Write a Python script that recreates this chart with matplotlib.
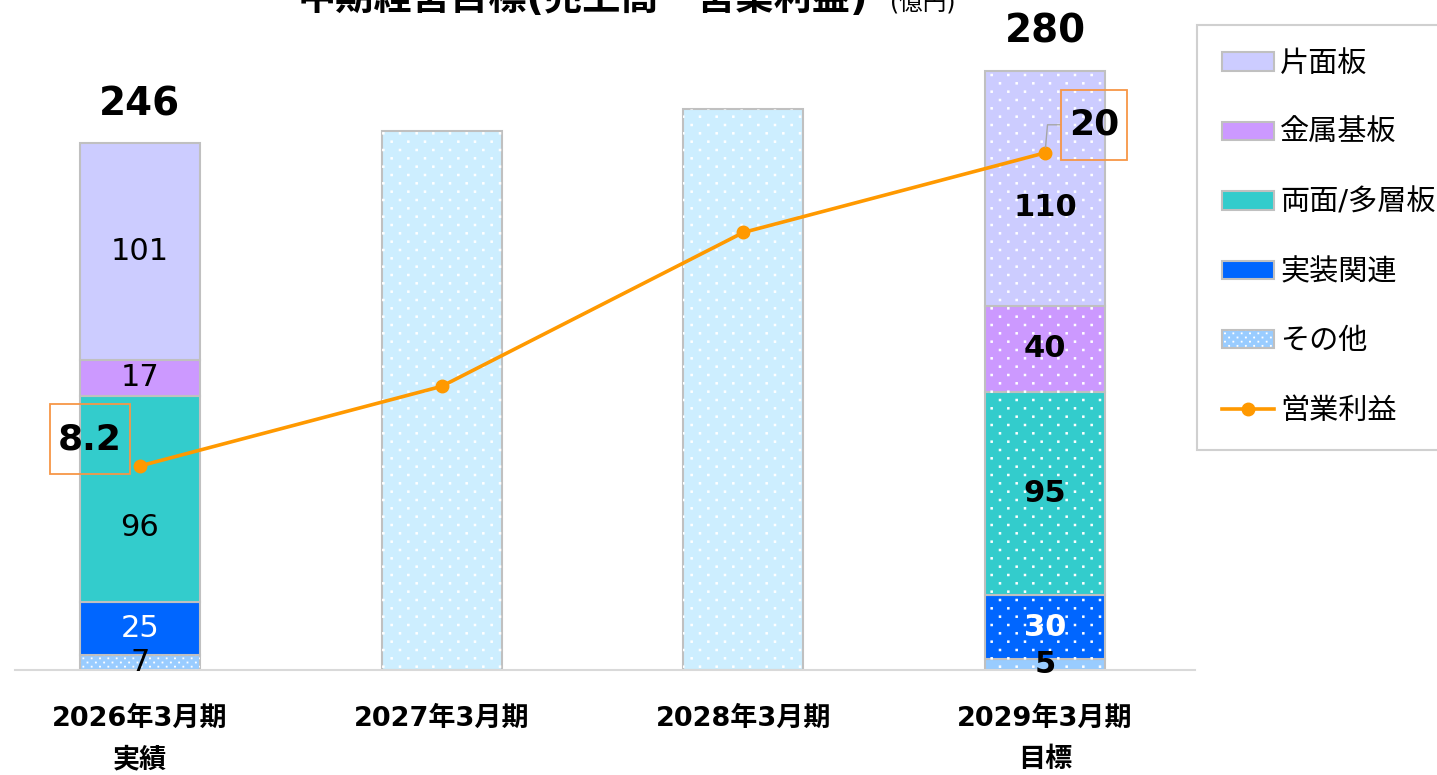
import numpy as np
import matplotlib
matplotlib.use("Agg")
import matplotlib.pyplot as plt
import matplotlib.hatch as mhatch
from matplotlib.path import Path
from matplotlib.patches import Patch
from matplotlib.lines import Line2D
from matplotlib.legend_handler import HandlerTuple

plt.rcParams['font.family'] = ['DejaVu Sans', 'Noto Sans CJK JP']
plt.rcParams['hatch.linewidth'] = 0.8


# '.' ハッチを互い違いの点模様に置き換える
class StaggeredDots(mhatch.HatchPatternBase):
    def __init__(self, hatch, density):
        self.n = hatch.count('.') * density
        self.num_vertices = 5 * ((self.n + 1) ** 2 + self.n ** 2) if self.n else 0

    def set_vertices_and_codes(self, vertices, codes):
        n = self.n
        h = 0.042 / n
        sq = np.array([[-h, -h], [h, -h], [h, h], [-h, h], [-h, -h]])
        pts = []
        for row in range(2 * n + 1):
            if row % 2 == 0:
                xs = np.linspace(0, 1, n + 1)
            else:
                xs = np.linspace(0.5 / n, 1 - 0.5 / n, n)
            for xx in xs:
                pts.append((xx, row / (2 * n)))
        pts = np.array(pts)
        vertices[:] = (pts[:, None, :] + sq[None, :, :]).reshape(-1, 2)
        c = np.array([Path.MOVETO, Path.LINETO, Path.LINETO, Path.LINETO, Path.CLOSEPOLY])
        codes[:] = np.tile(c, len(pts))


mhatch._hatch_types = [StaggeredDots if t is mhatch.SmallFilledCircles else t
                       for t in mhatch._hatch_types]


# 縦長の四角い枠 (ラベル用)
def tallbox(x0, y0, width, height, mutation_size):
    px, py = 0.22 * mutation_size, 0.5 * mutation_size
    x0, y0, x1, y1 = x0 - px, y0 - py, x0 + width + px, y0 + height + py
    return Path([(x0, y0), (x1, y0), (x1, y1), (x0, y1), (x0, y0)], closed=True)


# データ (億円)
periods = ['2026年3月期\n実績', '2027年3月期', '2028年3月期', '2029年3月期\n目標']
segments = ['その他', '実装関連', '両面/多層板', '金属基板', '片面板']
seg_2026 = [7, 25, 96, 17, 101]
seg_2029 = [5, 30, 95, 40, 110]
totals = [246, 252, 262, 280]
profit = [8.2, 11.2, 17.0, 20]

colors = {'片面板': '#ccccff', '金属基板': '#cc99ff', '両面/多層板': '#33cccc',
          '実装関連': '#0066ff', 'その他': '#99ccff'}
txtcol = {'片面板': 'black', '金属基板': 'black', '両面/多層板': 'black',
          '実装関連': 'white', 'その他': 'black'}
mid_color = '#cdeeff'
edge = '#c0c0c0'
orange = '#ff9900'

fig = plt.figure(figsize=(14.37, 7.75), dpi=100)
ax = fig.add_axes([15/1437, 105/775, 1180/1437, 670/775])
ax2 = ax.twinx()

x = np.arange(len(periods))
w = 0.398

# 2026 実績 (積み上げ)
bottom = 0
for name, v in zip(segments, seg_2026):
    ax.bar(x[0], v, w, bottom=bottom, color=colors[name], edgecolor=edge, lw=1.5, zorder=2)
    if name == 'その他':
        ax.bar(x[0], v, w, bottom=bottom, color='none', edgecolor='white', lw=0,
               hatch='..', zorder=3)
    dy = -21 if name == '両面/多層板' else 0
    ax.annotate(str(v), (x[0], bottom + v / 2), xytext=(0, dy), textcoords='offset points',
                ha='center', va='center', fontsize=22, color=txtcol[name], zorder=5)
    bottom += v

# 2027, 2028 (合計のみ)
for i in (1, 2):
    ax.bar(x[i], totals[i], w, color=mid_color, edgecolor=edge, lw=1.5, zorder=2)
    ax.bar(x[i], totals[i], w, color='none', edgecolor='white', lw=0, hatch='.', zorder=3)

# 2029 目標 (積み上げ)
bottom = 0
for name, v in zip(segments, seg_2029):
    ax.bar(x[3], v, w, bottom=bottom, color=colors[name], edgecolor=edge, lw=1.5, zorder=2)
    ax.bar(x[3], v, w, bottom=bottom, color='none', edgecolor='white', lw=0,
           hatch='.', zorder=3)
    dy = -14 if name == '片面板' else 0
    ax.annotate(str(v), (x[3], bottom + v / 2), xytext=(0, dy), textcoords='offset points',
                ha='center', va='center', fontsize=22, fontweight='bold',
                color=txtcol[name], zorder=5)
    bottom += v

for i in (0, 3):
    ax.annotate(str(totals[i]), (x[i], totals[i]), xytext=(0, 28), textcoords='offset points',
                ha='center', va='center', fontsize=28, fontweight='bold')

ax.set_xlim(-0.414, 3.497)
ax.set_ylim(0, 313)
ax.set_yticks([])
ax.set_xticks(x)
ax.set_xticklabels(periods, fontsize=19.5, fontweight='bold', linespacing=1.75)
ax.tick_params(axis='x', length=0, pad=26)
for s in ('top', 'left', 'right'):
    ax.spines[s].set_visible(False)
ax.spines['bottom'].set_color('#d9d9d9')
ax.spines['bottom'].set_linewidth(1.5)

# 営業利益 (第2軸)
ax2.plot(x, profit, color=orange, lw=2.6, marker='o', ms=9, zorder=6)
ax2.set_ylim(0.51, 25.76)
ax2.set_yticks([])
for s in ax2.spines.values():
    s.set_visible(False)

box = dict(boxstyle=tallbox, fc='none', ec='#f79646', lw=1.3)
ax2.annotate('8.2', (x[0], profit[0]), xytext=(-36, 19.4), textcoords='offset points',
             ha='center', va='center', fontsize=26, fontweight='bold', bbox=box, zorder=7)
ax2.annotate('20', (x[3], profit[3]), xytext=(35.3, 20.2), textcoords='offset points',
             ha='center', va='center', fontsize=26, fontweight='bold', bbox=box, zorder=7,
             arrowprops=dict(arrowstyle='-', color='#a6a6a6', lw=1,
                             connectionstyle='angle,angleA=0,angleB=85,rad=0',
                             shrinkA=0, shrinkB=4))

# タイトル (上端で切れている)
fig.text(298/1437, 0.987, '中期経営目標(売上高・営業利益)', fontsize=27.5,
         fontweight='bold', ha='left', va='baseline')
fig.text(890/1437, 0.987, '(億円)', fontsize=17, ha='left', va='baseline')

# 凡例
handles = [Patch(fc=colors['片面板'], ec=edge, lw=1.5),
           Patch(fc=colors['金属基板'], ec=edge, lw=1.5),
           Patch(fc=colors['両面/多層板'], ec=edge, lw=1.5),
           Patch(fc=colors['実装関連'], ec=edge, lw=1.5),
           (Patch(fc=colors['その他'], ec=edge, lw=1.5),
            Patch(fc='none', ec='white', lw=0, hatch='..')),
           Line2D([], [], color=orange, lw=2.6, marker='o', ms=9)]
labels = ['片面板', '金属基板', '両面/多層板', '実装関連', 'その他', '営業利益']
leg = fig.legend(handles, labels, loc='upper left', bbox_to_anchor=(1197/1437, 1 - 25/775),
                 fontsize=21, frameon=True, fancybox=False, edgecolor='#d0d0d0',
                 labelspacing=1.42, handlelength=1.8, handleheight=0.6, handletextpad=0.2,
                 borderpad=0.85, borderaxespad=0, framealpha=1,
                 handler_map={tuple: HandlerTuple(ndivide=1, pad=0)})
leg.get_frame().set_linewidth(1.5)

fig.savefig('out.png', dpi=100)
